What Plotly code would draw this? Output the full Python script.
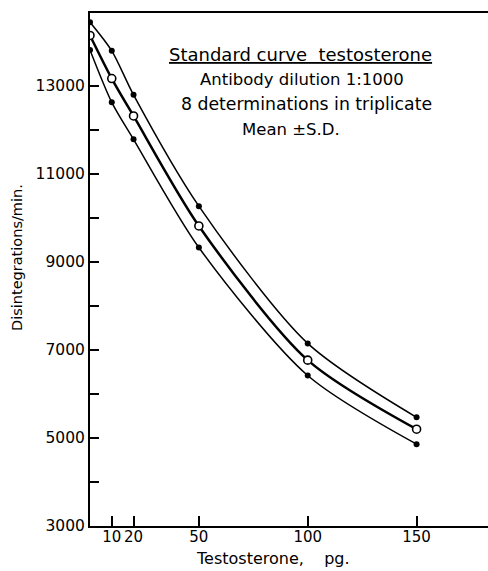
import plotly.graph_objects as go

# Data
dose_pg = [0, 10, 20, 50, 100, 150]
mean_plus_sd = [14450, 13800, 12800, 10270, 7150, 5470]
mean_dpm = [14150, 13170, 12320, 9820, 6770, 5200]
mean_minus_sd = [13820, 12630, 11790, 9330, 6420, 4860]

x_tickvals = [10, 20, 50, 100, 150]
x_ticktext = ["10", "20", "50", "100", "150"]
y_tickvals = [3000, 4000, 5000, 6000, 7000, 8000, 9000, 10000, 11000, 12000, 13000]
y_ticktext = ["3000", "", "5000", "", "7000", "", "9000", "", "11000", "", "13000"]

title_lines = [
    "<u>Standard curve  testosterone</u>",
    "Antibody dilution 1:1000",
    "8 determinations in triplicate",
    "Mean \u00b1S.D.",
]
x_title = "Testosterone,    pg."
y_title = "Disintegrations/min."

W, H = 488, 571
ML, MR, MT, MB = 90, 0, 13, 45
PW, PH = W - ML - MR, H - MT - MB


def px(xp, yp):
    return (xp - ML) / PW, (H - MB - yp) / PH


FONT = "DejaVu Sans"

fig = go.Figure()

for ys, width in [(mean_plus_sd, 1.5), (mean_minus_sd, 1.5)]:
    fig.add_trace(go.Scatter(
        x=dose_pg, y=ys, mode="lines+markers",
        line=dict(color="black", width=width, shape="spline", smoothing=0.8),
        marker=dict(symbol="circle", size=6, color="black"),
        showlegend=False, hoverinfo="x+y",
    ))

fig.add_trace(go.Scatter(
    x=dose_pg, y=mean_dpm, mode="lines+markers",
    line=dict(color="black", width=2.5, shape="spline", smoothing=0.8),
    marker=dict(symbol="circle", size=8, color="white",
                line=dict(color="black", width=1.6)),
    showlegend=False, hoverinfo="x+y",
))

# Annotation block
specs = [(300, 54, 18), (302, 79, 16.5), (306, 104, 17.3), (291, 129, 16.5)]
for txt, (cx, cy, fs) in zip(title_lines, specs):
    ax, ay = px(cx, cy)
    fig.add_annotation(text=txt, x=ax, y=ay, xref="paper", yref="paper",
                       xanchor="center", yanchor="middle", showarrow=False,
                       font=dict(family=FONT, size=fs, color="black"))

ax, ay = px(273, 558)
fig.add_annotation(text=x_title, x=ax, y=ay, xref="paper", yref="paper",
                   xanchor="center", yanchor="middle", showarrow=False,
                   font=dict(family=FONT, size=16, color="black"))
ax, ay = px(17, 258)
fig.add_annotation(text=y_title, x=ax, y=ay, xref="paper", yref="paper",
                   xanchor="center", yanchor="middle", showarrow=False,
                   textangle=-90,
                   font=dict(family=FONT, size=14.5, color="black"))

fig.update_layout(
    width=W, height=H,
    margin=dict(l=ML, r=MR, t=MT, b=MB),
    paper_bgcolor="white", plot_bgcolor="white",
    font=dict(family=FONT, color="black"),
    xaxis=dict(range=[0, 182.8], tickvals=x_tickvals, ticktext=x_ticktext,
               showline=True, linecolor="black", linewidth=2, mirror=True,
               ticks="inside", ticklen=10, tickwidth=1.5, tickcolor="black",
               ticklabelstandoff=-4,
               showgrid=False, zeroline=False,
               tickfont=dict(family=FONT, size=15, color="black")),
    yaxis=dict(range=[3000, 14660], tickvals=y_tickvals, ticktext=y_ticktext,
               showline=True, linecolor="black", linewidth=2, mirror=False,
               ticks="inside", ticklen=9, tickwidth=1.5, tickcolor="black",
               showgrid=False, zeroline=False,
               tickfont=dict(family=FONT, size=15.5, color="black")),
)

fig.write_html("out.html", config={"displayModeBar": False},
               post_script="document.body.style.margin='0';document.body.style.overflow='hidden';")
